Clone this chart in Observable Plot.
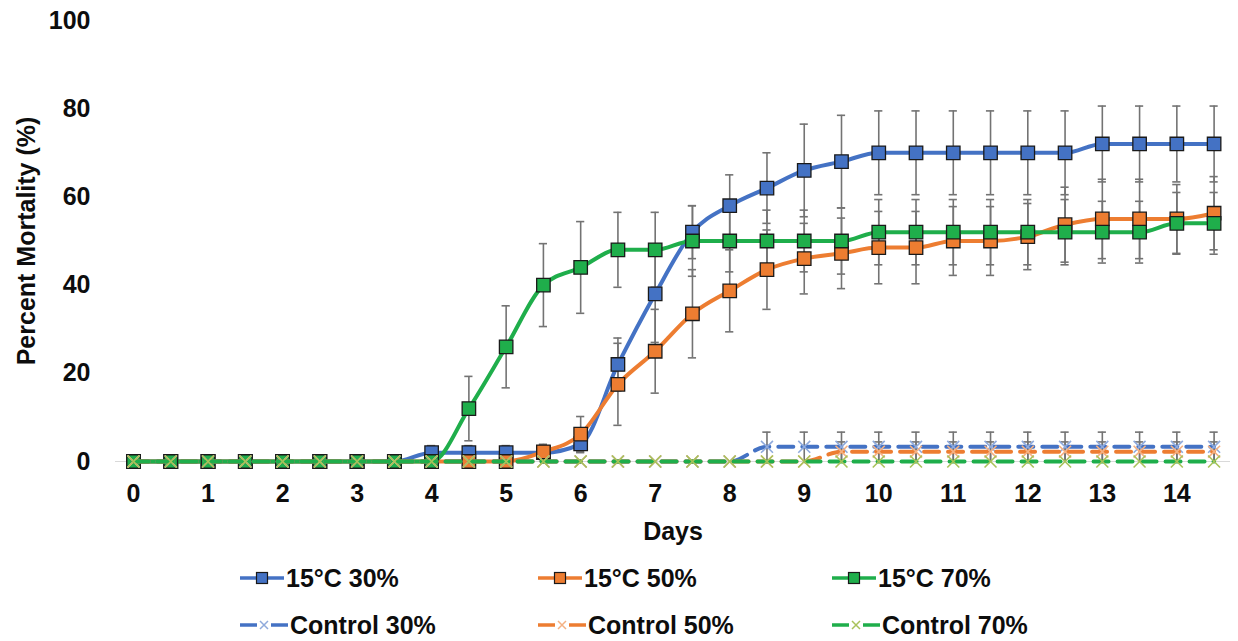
<!DOCTYPE html>
<html>
<head>
<meta charset="utf-8">
<script src="https://cdn.jsdelivr.net/npm/d3@7"></script>
<script src="https://cdn.jsdelivr.net/npm/@observablehq/plot@0.6"></script>
<style>
  html, body { margin: 0; padding: 0; background: #fff; }
  body { width: 1238px; height: 641px; overflow: hidden; font-family: "Liberation Sans", Arial, sans-serif; }
  #legend { position: relative; width: 1238px; height: 93px; font-weight: bold; font-size: 25px; color: #0d0d0d; }
  .item { position: absolute; display: flex; align-items: center; height: 30px; white-space: nowrap; }
  .item svg { display: block; margin-right: 2px; }
</style>
</head>
<body>
<div id="chart"></div>
<div id="legend"></div>
<script>
// ---- data ----
const days = [0,0.5,1,1.5,2,2.5,3,3.5,4,4.5,5,5.5,6,6.5,7,7.5,8,8.5,9,9.5,10,10.5,11,11.5,12,12.5,13,13.5,14,14.5];

const t30  = [0,0,0,0,0,0,0,0,2,2,2,2,4,22,38,52,58,62,66,68,70,70,70,70,70,70,72,72,72,72];
const t30e = [0,0,0,0,0,0,0,0,1.6,1.6,1.6,1.6,2,6,11,6,7,8,10.5,10.5,9.5,9.5,9.5,9.5,9.5,9.5,8.6,8.6,8.6,8.6];

const t50  = [0,0,0,0,0,0,0,0,0,0,0,2.2,6.2,17.5,25,33.5,38.7,43.5,46,47.2,48.5,48.5,50,50,51,53.7,55,55,55,56.3];
const t50e = [0,0,0,0,0,0,0,0,0,0,0,1.7,4,9.3,9.5,10,9.3,9,8,8,8.2,8.2,7.8,7.8,7.5,8.5,9,9,7.8,8.3];

const t70  = [0,0,0,0,0,0,0,0,0,12,26,40,44,48,48,50,50,50,50,50,52,52,52,52,52,52,52,52,54,54];
const t70e = [0,0,0,0,0,0,0,0,0,7.3,9.3,9.4,10.4,8.5,8.5,8,7,7,7,7.5,7.4,7.4,7.4,7.4,7.4,7.4,7,7,7,7];

const c30  = [0,0,0,0,0,0,0,0,0,0,0,0,0,0,0,0,0,3.33,3.33,3.33,3.33,3.33,3.33,3.33,3.33,3.33,3.33,3.33,3.33,3.33];
const c30e = [0,0,0,0,0,0,0,0,0,0,0,0,0,0,0,0,0,3.33,3.33,3.33,3.33,3.33,3.33,3.33,3.33,3.33,3.33,3.33,3.33,3.33];

const c50  = [0,0,0,0,0,0,0,0,0,0,0,0,0,0,0,0,0,0,0,2.22,2.22,2.22,2.22,2.22,2.22,2.22,2.22,2.22,2.22,2.22];
const c50e = [0,0,0,0,0,0,0,0,0,0,0,0,0,0,0,0,0,0,0,2.22,2.22,2.22,2.22,2.22,2.22,2.22,2.22,2.22,2.22,2.22];

const c70  = [0,0,0,0,0,0,0,0,0,0,0,0,0,0,0,0,0,0,0,0,0,0,0,0,0,0,0,0,0,0];
const c70e = [0,0,0,0,0,0,0,0,0,0,0,0,0,0,0,0,0,0,0,0,0,0,0,0,0,0,0,0,0,0];

const xTicks = [0,1,2,3,4,5,6,7,8,9,10,11,12,13,14];
const yTicks = [0,20,40,60,80,100];

const seriesNames = ["15°C 30%","15°C 50%","15°C 70%","Control 30%","Control 50%","Control 70%"];
const seriesValues = [t30, t50, t70, c30, c50, c70];
const seriesErrors = [t30e, t50e, t70e, c30e, c50e, c70e];
const lineColors = ["#4472C4","#ED7D31","#1FAE4B","#4472C4","#ED7D31","#1FAE4B"];
const markColors = ["#4472C4","#ED7D31","#1FAE4B","#8FAADC","#F4B183","#A9C25A"];
const isControl = [false,false,false,true,true,true];

// ---- build tables ----
const series = seriesNames.map((name, s) => ({
  name, s,
  rows: days.map((day, i) => ({day, v: seriesValues[s][i], e: seriesErrors[s][i]}))
}));

const FONT = "Liberation Sans, Arial, sans-serif";
const errColor = "#737373";
const capHalf = 0.055;

const marks = [];
marks.push(Plot.ruleY([0], {stroke: "#d9d9d9", strokeWidth: 1.2}));

// error bars first
for (const ser of series) {
  const rows = ser.rows.filter(d => d.e > 0);
  marks.push(Plot.ruleX(rows, {x: "day", y1: d => Math.max(0, d.v - d.e), y2: d => d.v + d.e, stroke: errColor, strokeWidth: 1.6}));
  marks.push(Plot.ruleY(rows, {x1: d => d.day - capHalf, x2: d => d.day + capHalf, y: d => d.v + d.e, stroke: errColor, strokeWidth: 1.6}));
  marks.push(Plot.ruleY(rows.filter(d => d.v - d.e > 0.01), {x1: d => d.day - capHalf, x2: d => d.day + capHalf, y: d => d.v - d.e, stroke: errColor, strokeWidth: 1.6}));
}

for (const ser of series) {
  const s = ser.s;
  if (!isControl[s]) {
    marks.push(Plot.line(ser.rows, {x: "day", y: "v", stroke: lineColors[s], strokeWidth: 4, curve: "monotone-x"}));
    marks.push(Plot.dot(ser.rows, {x: "day", y: "v", symbol: "square", r: 7.6, fill: markColors[s], stroke: "#1a1a1a", strokeWidth: 1.3}));
  } else {
    marks.push(Plot.line(ser.rows, {x: "day", y: "v", stroke: lineColors[s], strokeWidth: 4, strokeDasharray: "15,9", curve: "monotone-x"}));
    marks.push(Plot.dot(ser.rows, {x: "day", y: "v", symbol: "times", r: 5.5, stroke: markColors[s], strokeWidth: 1.6}));
  }
}

marks.push(Plot.axisX({ticks: xTicks, tickSize: 0, tickPadding: 23, tickFormat: d => String(d), fontSize: 25, fontWeight: "bold", label: "Days", labelAnchor: "center", labelOffset: 78, labelArrow: "none"}));
marks.push(Plot.axisY({ticks: yTicks, tickSize: 0, tickPadding: 25, tickFormat: d => String(d), fontSize: 25, fontWeight: "bold", label: "Percent Mortality (%)", labelAnchor: "center", labelOffset: 98, labelArrow: "none"}));

const chart = Plot.plot({
  width: 1238,
  height: 548,
  marginTop: 20,
  marginBottom: 87,
  marginLeft: 115,
  marginRight: 8,
  style: {fontFamily: FONT, fontSize: "25px", fontWeight: "bold", color: "#0d0d0d", background: "#fff", overflow: "visible"},
  x: {domain: [-0.242, 14.72]},
  y: {domain: [0, 100]},
  marks
});
document.getElementById("chart").appendChild(chart);

// ---- legend ----
const legend = document.getElementById("legend");
const colX = [240, 538, 832];
const rowY = [15, 62];
seriesNames.forEach((name, s) => {
  const col = s % 3, row = Math.floor(s / 3);
  const div = document.createElement("div");
  div.className = "item";
  div.style.left = colX[col] + "px";
  div.style.top = rowY[row] + "px";
  const w = isControl[s] ? 48 : 44;
  const ns = "http://www.w3.org/2000/svg";
  const svg = document.createElementNS(ns, "svg");
  svg.setAttribute("width", w); svg.setAttribute("height", 20);
  if (!isControl[s]) {
    const l = document.createElementNS(ns, "line");
    l.setAttribute("x1", 0); l.setAttribute("x2", w); l.setAttribute("y1", 10); l.setAttribute("y2", 10);
    l.setAttribute("stroke", lineColors[s]); l.setAttribute("stroke-width", 3.5);
    svg.appendChild(l);
    const r = document.createElementNS(ns, "rect");
    r.setAttribute("x", w/2 - 5.5); r.setAttribute("y", 4.5); r.setAttribute("width", 11); r.setAttribute("height", 11);
    r.setAttribute("fill", markColors[s]); r.setAttribute("stroke", "#1a1a1a"); r.setAttribute("stroke-width", 1.2);
    svg.appendChild(r);
  } else {
    for (const [a, b] of [[0, 17], [w - 17, w]]) {
      const l = document.createElementNS(ns, "line");
      l.setAttribute("x1", a); l.setAttribute("x2", b); l.setAttribute("y1", 10); l.setAttribute("y2", 10);
      l.setAttribute("stroke", lineColors[s]); l.setAttribute("stroke-width", 3.5);
      svg.appendChild(l);
    }
    const p = document.createElementNS(ns, "path");
    const c = w / 2;
    p.setAttribute("d", `M${c-4},6L${c+4},14M${c-4},14L${c+4},6`);
    p.setAttribute("stroke", markColors[s]); p.setAttribute("stroke-width", 1.5); p.setAttribute("fill", "none");
    svg.appendChild(p);
  }
  div.appendChild(svg);
  const span = document.createElement("span");
  span.textContent = name;
  div.appendChild(span);
  legend.appendChild(div);
});
</script>
</body>
</html>
